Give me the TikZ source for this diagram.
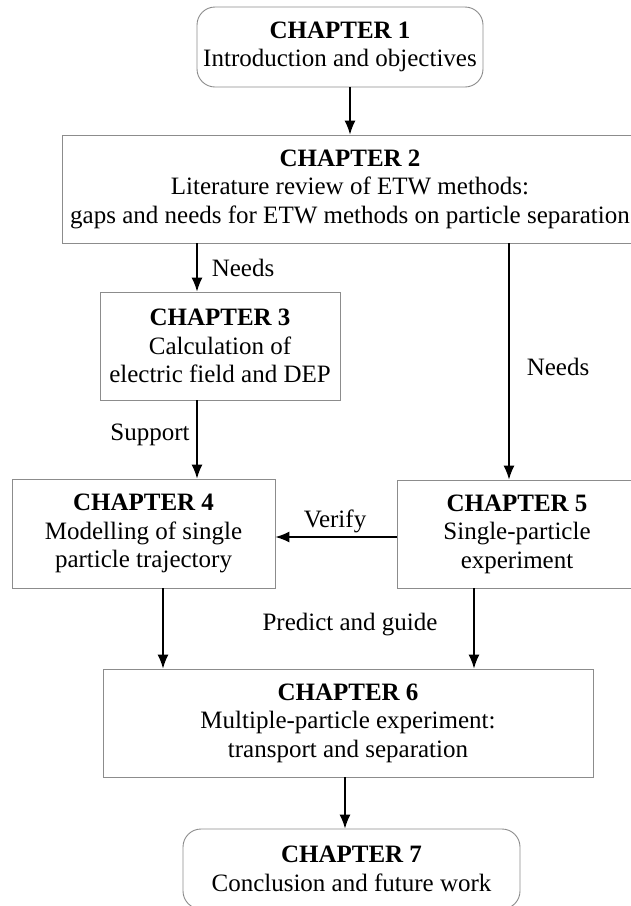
\documentclass[tikz,border=0pt]{standalone}
\usepackage{fontspec}
\setmainfont{Liberation Serif}
\usetikzlibrary{arrows.meta,calc}
\begin{document}
\begin{tikzpicture}[x=1pt,y=-1pt,
  chbox/.style={draw=black!45,line width=0.9pt,fill=white,align=center,inner sep=0pt,
    font=\fontsize{25}{28.5}\selectfont},
  rbox/.style={chbox,rounded corners=18pt},
  arr/.style={line width=1.3pt,-{Latex[length=14pt,width=11pt]}},
  lbl/.style={font=\fontsize{25}{28}\selectfont,inner sep=0pt}]
\useasboundingbox (0,0) rectangle (630,906);
\node[rbox,minimum width=286pt,minimum height=80pt] (ch1) at (340,47)
  {\textbf{CHAPTER 1}\\Introduction and objectives};
\node[chbox,minimum width=576pt,minimum height=108pt] (ch2) at (350,189)
  {\textbf{CHAPTER 2}\\Literature review of ETW methods:\\gaps and needs for ETW methods on particle separation};
\node[chbox,minimum width=240pt,minimum height=108pt] (ch3) at (220,346)
  {\textbf{CHAPTER 3}\\Calculation of\\electric field and DEP};
\node[chbox,minimum width=263pt,minimum height=109pt] (ch4) at (143.5,533.5)
  {\textbf{CHAPTER 4}\\Modelling of single\\particle trajectory};
\node[chbox,minimum width=240pt,minimum height=108pt] (ch5) at (517,534)
  {\textbf{CHAPTER 5}\\Single-particle\\experiment};
\node[chbox,minimum width=490pt,minimum height=108pt] (ch6) at (348,723)
  {\textbf{CHAPTER 6}\\Multiple-particle experiment:\\transport and separation};
\node[rbox,minimum width=337pt,minimum height=80pt] (ch7) at (351.5,869)
  {\textbf{CHAPTER 7}\\Conclusion and future work};
\coordinate (xa) at (350,0);
\coordinate (xb) at (197,0);
\coordinate (xc) at (509,0);
\coordinate (xd) at (163,0);
\coordinate (xe) at (474,0);
\coordinate (xf) at (345,0);
\coordinate (yv) at (0,537);
\draw[arr] (ch1.south -| xa) -- (ch2.north -| xa);
\draw[arr] (ch2.south -| xb) -- (ch3.north -| xb);
\draw[arr] (ch3.south -| xb) -- (ch4.north -| xb);
\draw[arr] (ch2.south -| xc) -- (ch5.north -| xc);
\draw[arr] (ch5.west |- yv) -- (ch4.east |- yv);
\draw[arr] (ch4.south -| xd) -- (ch6.north -| xd);
\draw[arr] (ch5.south -| xe) -- (ch6.north -| xe);
\draw[arr] (ch6.south -| xf) -- (ch7.north -| xf);
\node[lbl] (l1) at (243,268) {Needs};
\node[lbl] (l2) at (150,435) {Support};
\node[lbl] (l3) at (558,367) {Needs};
\node[lbl] (l4) at (335,521) {Verify};
\node[lbl] (l5) at (350,625) {Predict and guide};
\end{tikzpicture}
\end{document}
